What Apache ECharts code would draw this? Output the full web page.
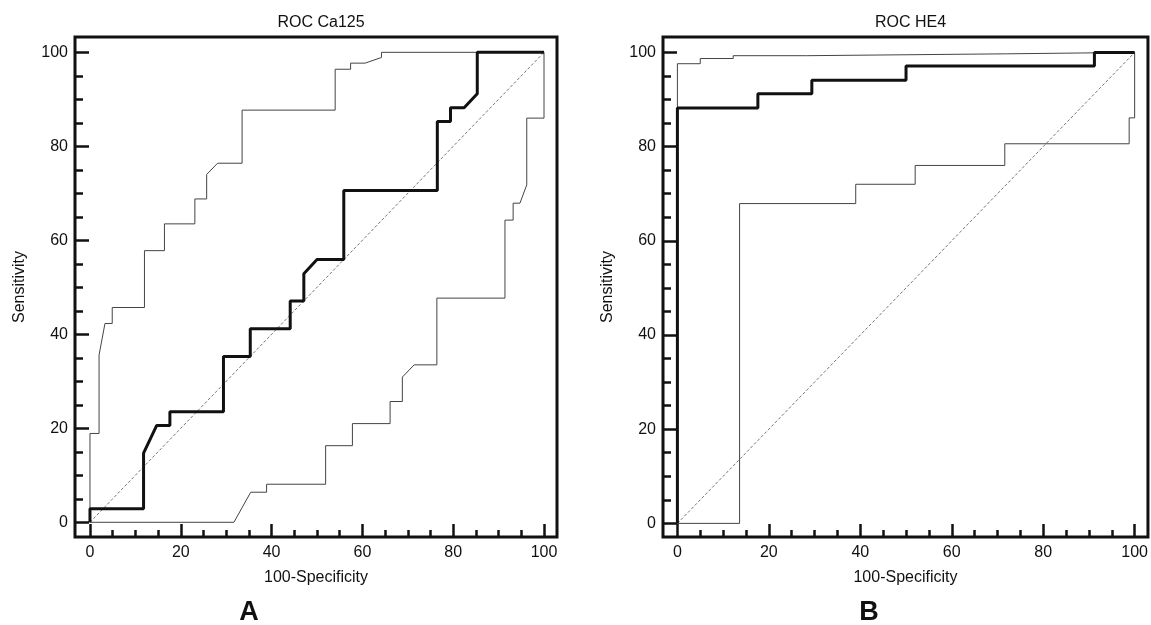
<!DOCTYPE html>
<html>
<head>
<meta charset="utf-8">
<script src="https://cdn.jsdelivr.net/npm/echarts@6/dist/echarts.min.js"></script>
<style>
  html, body { margin: 0; padding: 0; background: #fff; }
  #chart { width: 1151px; height: 625px; }
</style>
</head>
<body>
<div id="chart"></div>
<script>
// ROC Ca125 (panel A): [100-specificity, sensitivity]
var ca125Roc = [[0,0],[0,2.9],[11.8,2.9],[11.8,14.7],[14.7,20.6],[17.6,20.6],[17.6,23.5],[29.4,23.5],[29.4,35.3],
  [35.3,35.3],[35.3,41.2],[44.1,41.2],[44.1,47.1],[47.1,47.1],[47.1,52.9],[50,55.9],[55.9,55.9],[55.9,70.6],
  [76.5,70.6],[76.5,85.3],[79.4,85.3],[79.4,88.2],[82.4,88.2],[85.3,91.2],[85.3,100],[100,100]];
var ca125Upper = [[0,0],[0,18.9],[2,18.9],[2,35.6],[3.3,42.3],[4.9,42.3],[4.9,45.7],[12,45.7],[12,57.8],
  [16.4,57.8],[16.4,63.5],[23.1,63.5],[23.1,68.8],[25.7,68.8],[25.7,74],[28.1,76.4],[33.5,76.4],[33.5,87.7],
  [54,87.7],[54,96.4],[57.4,96.4],[57.4,97.7],[60.6,97.7],[64.2,98.9],[64.2,100],[100,100]];
var ca125Lower = [[0,0],[31.7,0],[35.4,6.4],[38.9,6.4],[38.9,8.1],[51.9,8.1],[51.9,16.3],[57.8,16.3],
  [57.8,21],[66.1,21],[66.1,25.7],[68.8,25.7],[68.8,30.9],[71.4,33.5],[76.4,33.5],[76.4,47.7],[91.4,47.7],
  [91.4,64.3],[93.2,64.3],[93.2,67.9],[94.7,67.9],[96.2,71.8],[96.2,86],[100,86],[100,100]];

// ROC HE4 (panel B)
var he4Roc = [[0,0],[0,88.2],[17.6,88.2],[17.6,91.2],[29.4,91.2],[29.4,94.1],[50,94.1],[50,97.1],
  [91.2,97.1],[91.2,100],[100,100]];
var he4Upper = [[0,0],[0,97.6],[5,97.6],[5,98.7],[12.2,98.7],[12.2,99.3],[28.2,99.3],[28.2,99.7],
  [72,99.7],[72,100],[100,100]];
var he4Lower = [[0,0],[13.6,0],[13.6,67.9],[39,67.9],[39,72],[52,72],[52,76],[71.6,76],[71.6,80.6],
  [98.8,80.6],[98.8,86.1],[100,86.1],[100,100]];

var refLine = [[0,0],[100,100]];
var majorTicks = [0, 20, 40, 60, 80, 100];
var minorTicks = [5, 10, 15, 25, 30, 35, 45, 50, 55, 65, 70, 75, 85, 90, 95];
var titles = ['ROC Ca125', 'ROC HE4'];
var panelLetters = ['A', 'B'];
var xName = '100-Specificity';
var yName = 'Sensitivity';

var font = '"Liberation Sans", Arial, sans-serif';
var ink = '#111';

// framed plot boxes and the axis extents that the frame covers
var panels = [
  { left: 75, top: 37, width: 482, height: 500, x: [-3.3, 102.86], y: [-3.13, 103.26], letterX: 244 },
  { left: 663, top: 37, width: 485, height: 500, x: [-3.15, 102.91], y: [-2.89, 103.27], letterX: 864 }
];

function xAxisFor(i, minor) {
  var p = panels[i];
  return {
    gridIndex: i, type: 'value', min: p.x[0], max: p.x[1], position: 'bottom',
    axisLine: { show: false, onZero: false },
    axisTick: { inside: true, customValues: minor ? minorTicks : majorTicks, length: minor ? 7 : 13,
      lineStyle: { color: ink, width: 2.5 } },
    splitLine: { show: false },
    axisLabel: minor ? { show: false } : { customValues: majorTicks, margin: 8, fontSize: 16, color: ink, fontFamily: font },
    name: minor ? '' : xName, nameLocation: 'middle', nameGap: 33,
    nameTextStyle: { fontSize: 16, color: ink, fontFamily: font }
  };
}
function yAxisFor(i, minor) {
  var p = panels[i];
  return {
    gridIndex: i, type: 'value', min: p.y[0], max: p.y[1], position: 'left',
    axisLine: { show: false, onZero: false },
    axisTick: { inside: true, customValues: minor ? minorTicks : majorTicks, length: minor ? 8 : 14,
      lineStyle: { color: ink, width: 2.5 } },
    splitLine: { show: false },
    axisLabel: minor ? { show: false } : { customValues: majorTicks, margin: 7, fontSize: 16, color: ink, fontFamily: font },
    name: minor ? '' : yName, nameLocation: 'middle', nameGap: 47,
    nameTextStyle: { fontSize: 16, color: ink, fontFamily: font }
  };
}
function line(i, data, width, color, type, z) {
  return {
    type: 'line', xAxisIndex: i, yAxisIndex: i, data: data,
    showSymbol: false, symbol: 'none', silent: true, z: z,
    lineStyle: { width: width, color: color, type: type || 'solid' }
  };
}

var chart = echarts.init(document.getElementById('chart'));
chart.setOption({
  animation: false,
  backgroundColor: '#fff',
  title: panels.map(function (p, i) {
    return {
      text: titles[i], left: p.left + p.width / 2, top: 10, textAlign: 'center',
      textStyle: { fontSize: 16, fontWeight: 'normal', color: ink, fontFamily: font }
    };
  }).concat(panels.map(function (p, i) {
    return {
      text: panelLetters[i], left: p.letterX, top: 594, textAlign: 'center',
      textStyle: { fontSize: 27, fontWeight: 'bold', color: ink, fontFamily: font }
    };
  })),
  grid: panels.map(function (p) {
    return { left: p.left, top: p.top, width: p.width, height: p.height,
      show: true, borderColor: ink, borderWidth: 3, backgroundColor: 'transparent' };
  }),
  xAxis: [xAxisFor(0), xAxisFor(1), xAxisFor(0, true), xAxisFor(1, true)],
  yAxis: [yAxisFor(0), yAxisFor(1), yAxisFor(0, true), yAxisFor(1, true)],
  series: [
    line(0, ca125Upper, 1, '#444', 'solid', 2),
    line(0, ca125Lower, 1, '#444', 'solid', 2),
    line(0, refLine, 1, '#777', [3, 2], 2),
    line(0, ca125Roc, 3, ink, 'solid', 3),
    line(1, he4Upper, 1, '#444', 'solid', 2),
    line(1, he4Lower, 1, '#444', 'solid', 2),
    line(1, refLine, 1, '#777', [3, 2], 2),
    line(1, he4Roc, 3, ink, 'solid', 3)
  ]
});
</script>
</body>
</html>
